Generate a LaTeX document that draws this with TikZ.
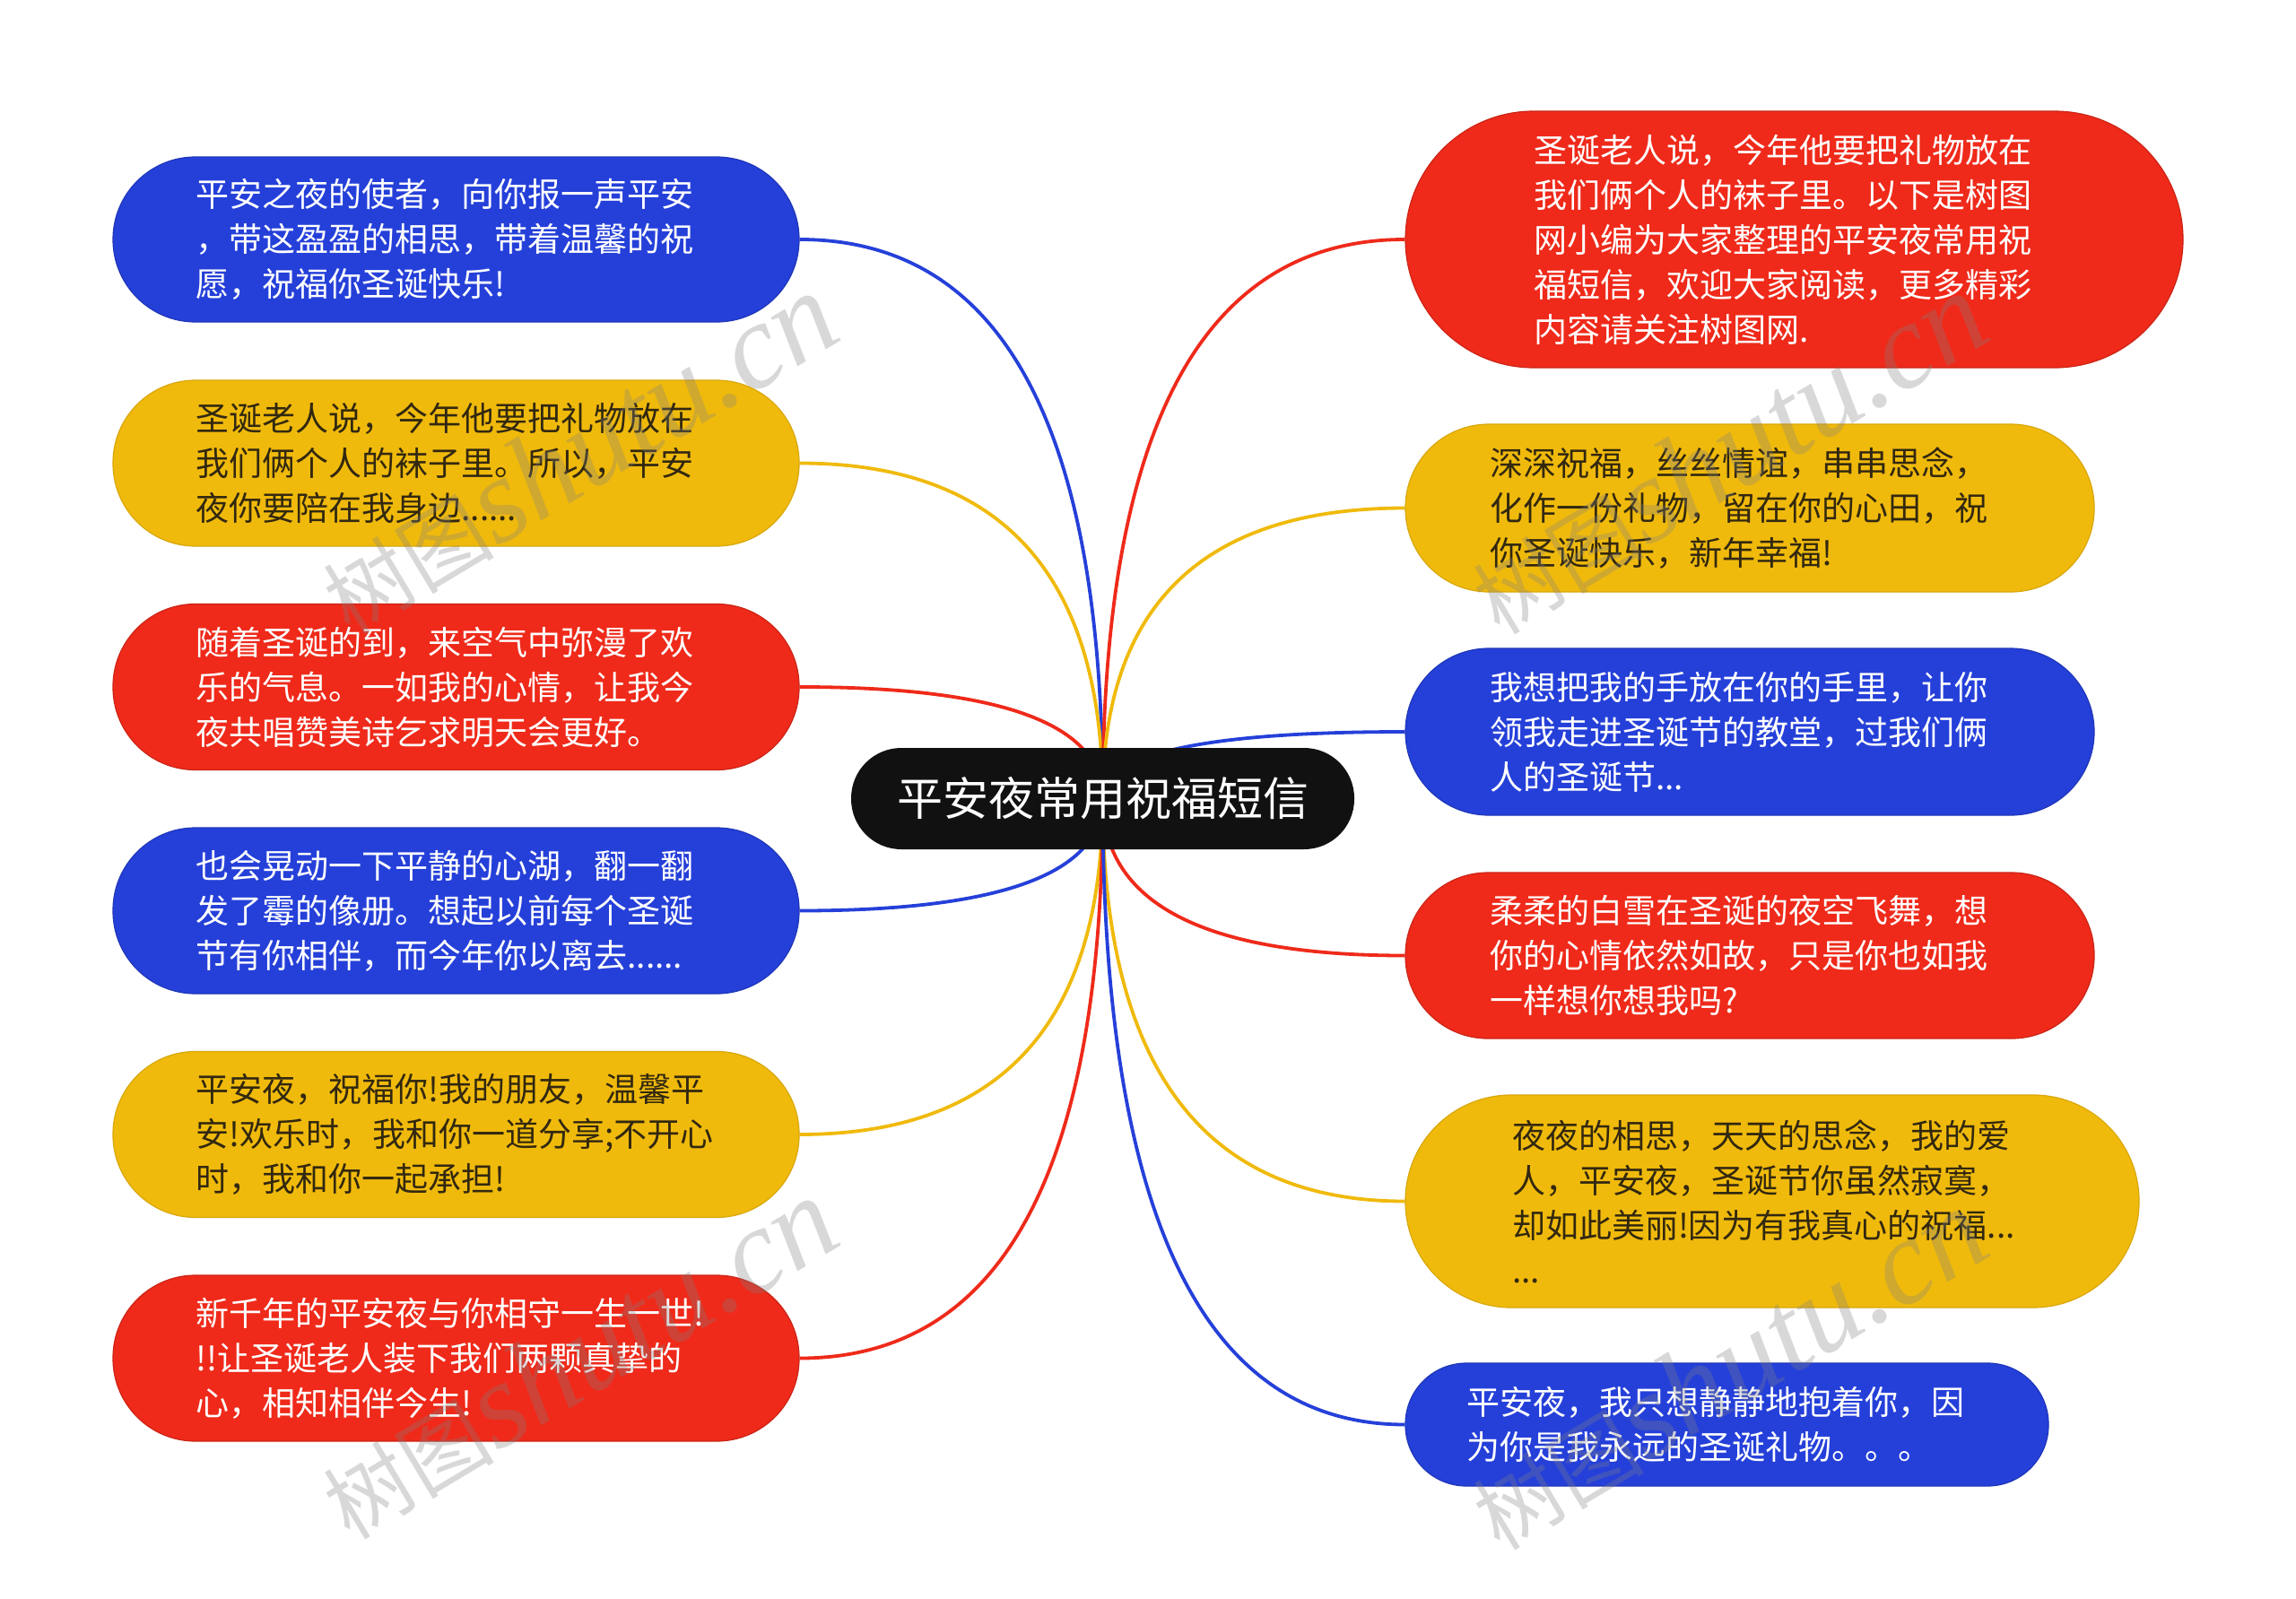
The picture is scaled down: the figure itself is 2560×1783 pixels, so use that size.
\documentclass[tikz,border=0pt]{standalone}
\usepackage{fontspec}
\setmainfont{Noto Sans CJK SC}
\newfontfamily\wmfont{Liberation Serif}
\usetikzlibrary{calc,backgrounds}
\definecolor{mblue}{RGB}{37,64,217}
\definecolor{mred}{RGB}{239,42,26}
\definecolor{myellow}{RGB}{240,186,12}
\definecolor{mdark}{RGB}{17,17,17}
\definecolor{ytext}{RGB}{50,40,16}
\tikzset{
  leafbox/.style={inner ysep=0pt, align=left, text width=580pt,
    font=\fontsize{37pt}{50pt}\selectfont},
  bluebox/.style={leafbox, fill=mblue, draw=mblue!85!black, line width=1.2pt, text=white},
  redbox/.style={leafbox, fill=mred, draw=mred!85!black, line width=1.2pt, text=white},
  yellowbox/.style={leafbox, fill=myellow, draw=myellow!90!black, line width=1.2pt, text=ytext},
  rootbox/.style={fill=mdark, text=white, minimum width=561pt, minimum height=113pt,
    rounded corners=56pt, font=\fontsize{51pt}{56pt}\selectfont},
  conn/.style={line width=3.8pt},
  wm/.style={text=black!50, opacity=0.3, rotate=31, inner sep=0pt}
}
\newcommand\wmtext{{\fontsize{95pt}{100pt}\selectfont 树图}\,{\wmfont\itshape\fontsize{135pt}{140pt}\selectfont shutu.cn}}
\begin{document}
\begin{tikzpicture}[x=1pt,y=-1pt]
\useasboundingbox (0,0) rectangle (2560,1783);

\node[rootbox] (root) at (1229.5,890.5) {平安夜常用祝福短信};

\node[bluebox, minimum width=765pt, minimum height=184pt, rounded corners=92pt, inner xsep=92.5pt] (L1) at (508.5,267)
 {平安之夜的使者，向你报一声平安\\，带这盈盈的相思，带着温馨的祝\\愿，祝福你圣诞快乐!};
\node[yellowbox, minimum width=765pt, minimum height=185pt, rounded corners=92pt, inner xsep=92.5pt] (L2) at (508.5,516.5)
 {圣诞老人说，今年他要把礼物放在\\我们俩个人的袜子里。所以，平安\\夜你要陪在我身边......};
\node[redbox, minimum width=765pt, minimum height=185pt, rounded corners=92pt, inner xsep=92.5pt] (L3) at (508.5,766)
 {随着圣诞的到，来空气中弥漫了欢\\乐的气息。一如我的心情，让我今\\夜共唱赞美诗乞求明天会更好。};
\node[bluebox, minimum width=765pt, minimum height=185pt, rounded corners=92pt, inner xsep=92.5pt] (L4) at (508.5,1015.5)
 {也会晃动一下平静的心湖，翻一翻\\发了霉的像册。想起以前每个圣诞\\节有你相伴，而今年你以离去......};
\node[yellowbox, minimum width=765pt, minimum height=185pt, rounded corners=92pt, inner xsep=92.5pt] (L5) at (508.5,1265)
 {平安夜，祝福你!我的朋友，温馨平\\安!欢乐时，我和你一道分享;不开心\\时，我和你一起承担!};
\node[redbox, minimum width=765pt, minimum height=185pt, rounded corners=92pt, inner xsep=92.5pt] (L6) at (508.5,1514.5)
 {新千年的平安夜与你相守一生一世!\\!!让圣诞老人装下我们两颗真挚的\\心，相知相伴今生!};

\node[redbox, minimum width=867pt, minimum height=286pt, rounded corners=143pt, inner xsep=143.5pt] (R1) at (2000.5,267)
 {圣诞老人说，今年他要把礼物放在\\我们俩个人的袜子里。以下是树图\\网小编为大家整理的平安夜常用祝\\福短信，欢迎大家阅读，更多精彩\\内容请关注树图网.};
\node[yellowbox, minimum width=768pt, minimum height=187pt, rounded corners=93pt, inner xsep=94pt] (R2) at (1951,566.5)
 {深深祝福，丝丝情谊，串串思念，\\化作一份礼物，留在你的心田，祝\\你圣诞快乐，新年幸福!};
\node[bluebox, minimum width=768pt, minimum height=186pt, rounded corners=93pt, inner xsep=94pt] (R3) at (1951,816)
 {我想把我的手放在你的手里，让你\\领我走进圣诞节的教堂，过我们俩\\人的圣诞节...};
\node[redbox, minimum width=768pt, minimum height=185pt, rounded corners=92pt, inner xsep=94pt] (R4) at (1951,1065.5)
 {柔柔的白雪在圣诞的夜空飞舞，想\\你的心情依然如故，只是你也如我\\一样想你想我吗?};
\node[yellowbox, minimum width=818pt, minimum height=237pt, rounded corners=118pt, inner xsep=119pt] (R5) at (1976,1339.5)
 {夜夜的相思，天天的思念，我的爱\\人，平安夜，圣诞节你虽然寂寞，\\却如此美丽!因为有我真心的祝福...\\...};
\node[bluebox, minimum width=717pt, minimum height=137pt, rounded corners=68pt, inner xsep=68.5pt] (R6) at (1925.5,1588.5)
 {平安夜，我只想静静地抱着你，因\\为你是我永远的圣诞礼物。。。};

\begin{scope}[on background layer]
\fill[white] (0,0) rectangle (2560,1783);
\foreach \n/\c/\a in {L1/mblue/east, L2/myellow/east, L3/mred/east, L4/mblue/east, L5/myellow/east, L6/mred/east,
                      R1/mred/west, R2/myellow/west, R3/mblue/west, R4/mred/west, R5/myellow/west, R6/mblue/west}{
  \draw[conn, draw=\c] (root.center)
    .. controls ($(root.center)!0.667!(root.center|-\n.\a)$) and ($(\n.\a)!0.667!(root.center|-\n.\a)$) .. (\n.\a);
}
\end{scope}

\node[wm] (wm1) at (645,506) {\wmtext};
\node[wm] (wm2) at (645,1515) {\wmtext};
\node[wm] (wm3) at (1927,506) {\wmtext};
\node[wm] (wm4) at (1927,1527) {\wmtext};
\end{tikzpicture}
\end{document}
